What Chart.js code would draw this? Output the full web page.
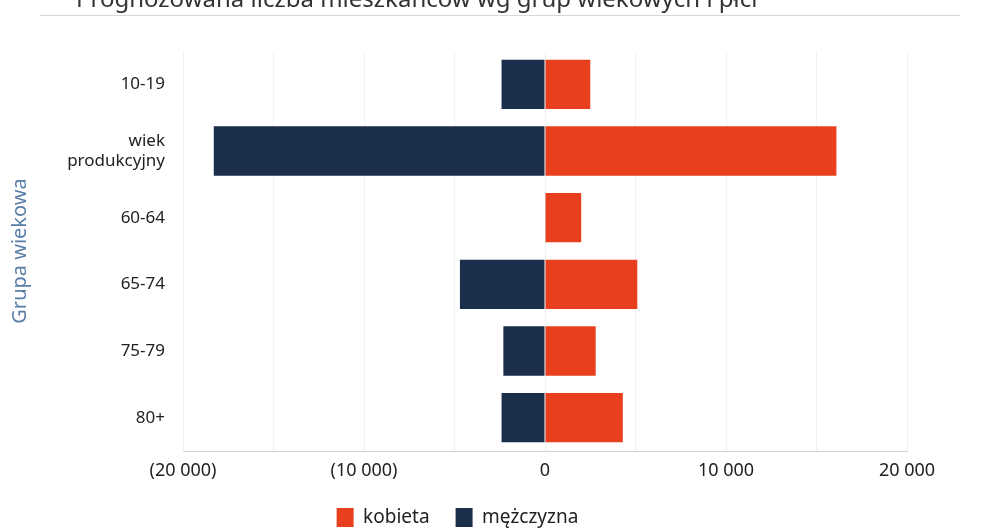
<!DOCTYPE html>
<html>
<head>
<meta charset="utf-8">
<script src="https://cdn.jsdelivr.net/npm/chart.js@4"></script>
<style>
  html, body { margin: 0; padding: 0; background: #fff; }
  #wrap { position: relative; width: 999px; height: 530px; overflow: hidden; }
  #title {
    position: absolute; left: 76px; top: -19px;
    font: 24px "Noto Sans", sans-serif; color: #333; white-space: nowrap;
  }
  #rule {
    position: absolute; left: 40px; width: 920px; top: 15px;
    border-top: 1px solid #d3d9e2;
  }
  canvas { position: absolute; left: 0; top: 0; }
</style>
</head>
<body>
<div id="wrap">
  <canvas id="pyramid" width="999" height="530"></canvas>
  <div id="title">Prognozowana liczba mieszkańców wg grup wiekowych i płci</div>
  <div id="rule"></div>
</div>
<script>
const ageGroups = ['10-19', ['wiek', 'produkcyjny'], '60-64', '65-74', '75-79', '80+'];
const women = [2500, 16100, 2000, 5100, 2800, 4300];
const men = [-2400, -18300, 0, -4700, -2300, -2400];
const xTicks = [-20000, -10000, 0, 10000, 20000];

function formatTick(v) {
    if (!xTicks.includes(v)) return '';
    const s = String(Math.abs(v)).replace(/\B(?=(\d{3})+(?!\d))/g, ' ');
    return v < 0 ? '(' + s + ')' : s;
}

Chart.defaults.font.family = '"Noto Sans", sans-serif';
Chart.defaults.color = '#222';

const ctx = document.getElementById('pyramid').getContext('2d');
new Chart(ctx, {
    type: 'bar',
    data: {
        labels: ageGroups,
        datasets: [{
            label: 'kobieta',
            data: women,
            backgroundColor: '#e8401f',
            barPercentage: 0.74,
            categoryPercentage: 1
        }, {
            label: 'mężczyzna',
            data: men,
            backgroundColor: '#1b2e4b',
            barPercentage: 0.74,
            categoryPercentage: 1
        }]
    },
    options: {
        indexAxis: 'y',
        responsive: false,
        animation: false,
        layout: { padding: { left: 8, right: 92, top: 51, bottom: -7 } },
        plugins: {
            tooltip: { enabled: false },
            legend: {
                position: 'bottom',
                labels: {
                    boxWidth: 17,
                    boxHeight: 19,
                    padding: 26,
                    font: { size: 19 },
                    color: '#222'
                }
            }
        },
        scales: {
            x: {
                stacked: true,
                min: -20000,
                max: 20000,
                ticks: {
                    stepSize: 5000,
                    autoSkip: false,
                    maxRotation: 0,
                    padding: 9,
                    font: { size: 18 },
                    callback: v => formatTick(v)
                },
                grid: { color: '#f0f1f3', drawTicks: false },
                border: { color: '#c9d0da' },
                afterFit: scale => { scale.height = 31; }
            },
            y: {
                stacked: true,
                ticks: { padding: 10, font: { size: 17 }, color: '#222' },
                grid: { display: false },
                border: { display: false },
                title: {
                    display: true,
                    text: 'Grupa wiekowa',
                    color: '#5a7ea8',
                    font: { size: 20 },
                    padding: 0
                },
                afterFit: scale => { scale.width = 175; }
            }
        }
    }
});
</script>
</body>
</html>
